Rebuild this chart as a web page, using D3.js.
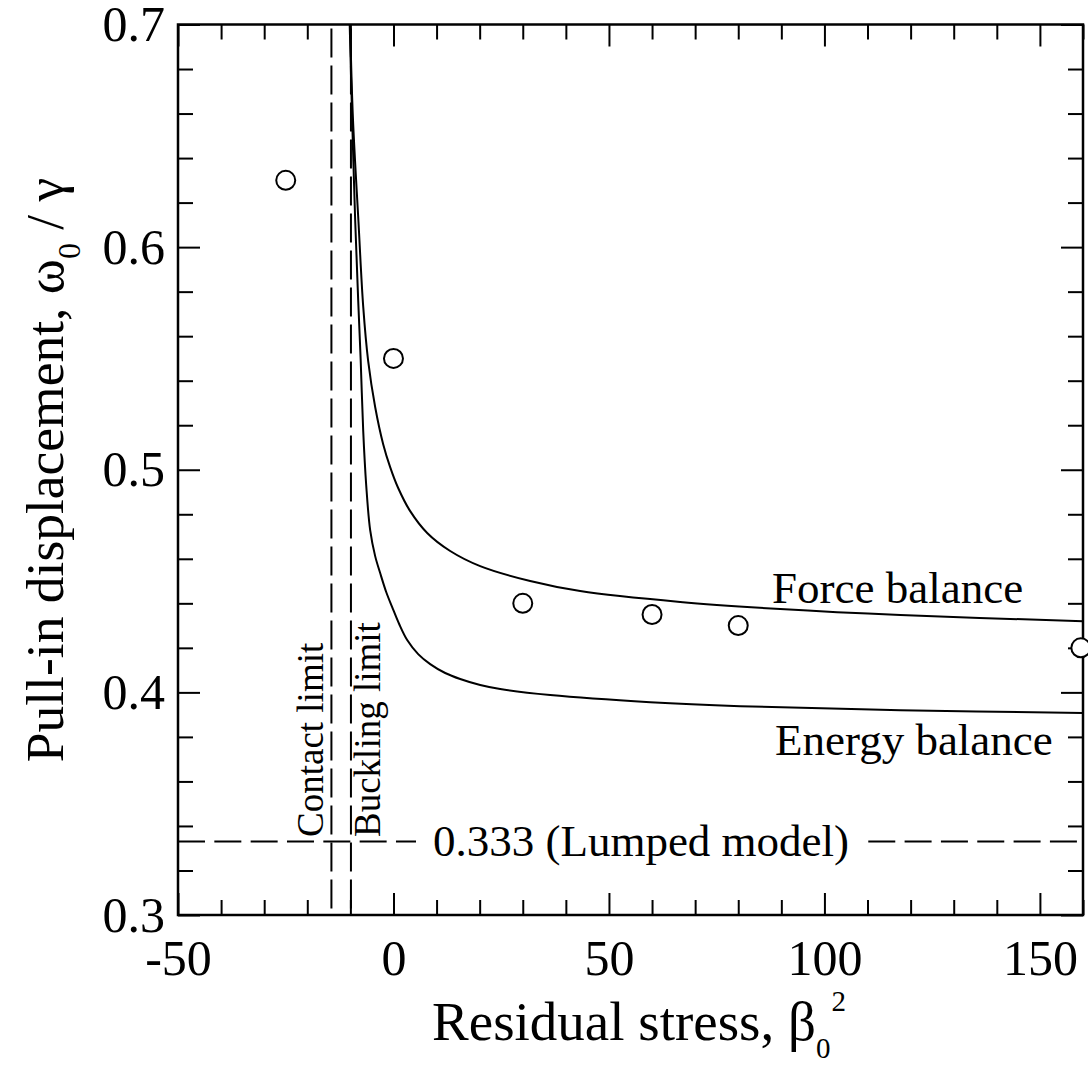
<!DOCTYPE html>
<html>
<head>
<meta charset="utf-8">
<script src="https://cdn.jsdelivr.net/npm/d3@7"></script>
<style>
  html, body { margin: 0; padding: 0; background: #fff; }
  svg { display: block; }
  text { font-family: "Liberation Serif", "Times New Roman", serif; fill: #000; }
</style>
</head>
<body>
<svg id="chart" width="1088" height="1066"></svg>
<script>
// Pull-in displacement vs residual stress: force balance and energy balance models
const forceBeta = [-10.05, -9.42, -8.12, -7.03, -5.87, -4.25, -2.39, -0.77, 1.09, 3.88, 7.82, 13.16, 20.12, 31.72, 43.32, 66.53, 89.73, 117.6, 160];
const forceVal  = [0.700, 0.6584, 0.6113, 0.5735, 0.5488, 0.5282, 0.5115, 0.5012, 0.4918, 0.4814, 0.4716, 0.4635, 0.4567, 0.4500, 0.4455, 0.4406, 0.4374, 0.4347, 0.4320];

const energyBeta = [-10.16, -9.58, -8.89, -8.19, -7.61, -7.03, -6.33, -5.41, -4.25, -3.09, -1.69, -0.30, 1.32, 3.18, 5.73, 8.52, 12.0, 15.48, 20.12, 24.76, 36.36, 59.57, 80.45, 117.6, 160];
const energyVal  = [0.700, 0.6571, 0.6122, 0.5762, 0.5493, 0.5178, 0.4931, 0.4729, 0.4612, 0.4536, 0.4451, 0.4383, 0.4307, 0.4235, 0.4172, 0.4127, 0.4087, 0.4060, 0.4033, 0.4015, 0.3988, 0.3956, 0.3938, 0.3920, 0.3907];

// Measured points
const measBeta = [-25, 0, 30, 60, 80, 159.5];
const measVal  = [0.63, 0.55, 0.44, 0.435, 0.43, 0.42];

// Reference limits
const contactLimit = -14.4;
const bucklingLimit = -Math.PI * Math.PI;
const lumpedValue = 0.333;

// Axis ticks
const xMajor = [-50, 0, 50, 100, 150];
const xMinor = d3.range(-40, 161, 10).filter(v => v % 50 !== 0);
const yMajor = [0.3, 0.4, 0.5, 0.6, 0.7];
const yMinor = d3.range(0.32, 0.70, 0.02).filter(v => Math.abs(v * 10 - Math.round(v * 10)) > 1e-6);

const svg = d3.select("#chart");
const L = 178, R = 1083, T = 24.5, B = 915;

const x = d3.scaleLinear().domain([-50, 160]).range([L, R]);
const y = d3.scaleLinear().domain([0.3, 0.7]).range([B, T]);

svg.append("defs").append("clipPath").attr("id", "plotclip")
  .append("rect").attr("x", L).attr("y", T).attr("width", R - L).attr("height", B - T);

const plot = svg.append("g").attr("clip-path", "url(#plotclip)");

// Vertical limits
[contactLimit, bucklingLimit].forEach(v => {
  plot.append("line")
    .attr("x1", x(v)).attr("x2", x(v)).attr("y1", T + 4).attr("y2", B)
    .attr("stroke", "#000").attr("stroke-width", 2)
    .attr("stroke-dasharray", "29,8");
});

// Lumped model line
plot.append("line")
  .attr("x1", x(-50)).attr("x2", x(160)).attr("y1", y(lumpedValue)).attr("y2", y(lumpedValue))
  .attr("stroke", "#000").attr("stroke-width", 2)
  .attr("stroke-dasharray", "27,9.33");

// Label over the lumped line
plot.append("rect")
  .attr("x", 416).attr("y", y(lumpedValue) - 22).attr("width", 450).attr("height", 44)
  .attr("fill", "#fff");
svg.append("text")
  .attr("x", 641).attr("y", y(lumpedValue) + 14)
  .attr("text-anchor", "middle").attr("font-size", 45)
  .text("0.333 (Lumped model)");

// Model curves
const line = d3.line().x(d => x(d[0])).y(d => y(d[1])).curve(d3.curveCatmullRom.alpha(0.5));
const forceData = forceBeta.map((b, i) => [b, forceVal[i]]);
const energyData = energyBeta.map((b, i) => [b, energyVal[i]]);

plot.append("path").datum(forceData).attr("d", line)
  .attr("fill", "none").attr("stroke", "#000").attr("stroke-width", 2);
plot.append("path").datum(energyData).attr("d", line)
  .attr("fill", "none").attr("stroke", "#000").attr("stroke-width", 2);

// Axes: ticks inward on all four sides
function styleAxis(g) {
  g.select(".domain").remove();
  g.selectAll("line").attr("stroke", "#000").attr("stroke-width", 2);
  g.selectAll("text").attr("font-family", "Liberation Serif").attr("font-size", 50).attr("fill", "#000");
}

svg.append("g").attr("transform", `translate(0,${B})`)
  .call(d3.axisBottom(x).tickValues(xMajor).tickSize(-22).tickPadding(24).tickFormat(d => String(d)))
  .call(styleAxis);
svg.append("g").attr("transform", `translate(0,${B})`)
  .call(d3.axisBottom(x).tickValues(xMinor).tickSize(-15).tickFormat(""))
  .call(styleAxis);
svg.append("g").attr("transform", `translate(0,${T})`)
  .call(d3.axisTop(x).tickValues(xMajor).tickSize(-22).tickFormat(""))
  .call(styleAxis);
svg.append("g").attr("transform", `translate(0,${T})`)
  .call(d3.axisTop(x).tickValues(xMinor).tickSize(-15).tickFormat(""))
  .call(styleAxis);

svg.append("g").attr("transform", `translate(${L},0)`)
  .call(d3.axisLeft(y).tickValues(yMajor).tickSize(-22).tickPadding(13).tickFormat(d3.format(".1f")))
  .call(styleAxis);
svg.append("g").attr("transform", `translate(${L},0)`)
  .call(d3.axisLeft(y).tickValues(yMinor).tickSize(-15).tickFormat(""))
  .call(styleAxis);
svg.append("g").attr("transform", `translate(${R},0)`)
  .call(d3.axisRight(y).tickValues(yMajor).tickSize(-22).tickFormat(""))
  .call(styleAxis);
svg.append("g").attr("transform", `translate(${R},0)`)
  .call(d3.axisRight(y).tickValues(yMinor).tickSize(-15).tickFormat(""))
  .call(styleAxis);

// Frame
svg.append("rect")
  .attr("x", L).attr("y", T).attr("width", R - L).attr("height", B - T)
  .attr("fill", "none").attr("stroke", "#000").attr("stroke-width", 2.5);

// Measured points
svg.selectAll("circle.meas").data(measBeta.map((b, i) => [b, measVal[i]]))
  .join("circle").attr("class", "meas")
  .attr("cx", d => x(d[0])).attr("cy", d => y(d[1])).attr("r", 9.5)
  .attr("fill", "#fff").attr("stroke", "#000").attr("stroke-width", 2);

// Curve labels
svg.append("text").attr("x", 772).attr("y", 603).attr("font-size", 45).text("Force balance");
svg.append("text").attr("x", 775).attr("y", 755).attr("font-size", 45).text("Energy balance");

// Limit labels (vertical)
svg.append("text").attr("transform", "translate(323,837) rotate(-90)")
  .attr("font-size", 37).text("Contact limit");
svg.append("text").attr("transform", "translate(380,837) rotate(-90)")
  .attr("font-size", 37).text("Buckling limit");

// Axis titles
const xt = svg.append("text").attr("x", 639).attr("y", 1040)
  .attr("text-anchor", "middle").attr("font-size", 55);
xt.append("tspan").text("Residual stress, β");
xt.append("tspan").attr("font-size", 29).attr("dy", 18).text("0");
xt.append("tspan").attr("font-size", 29).attr("dy", -47).attr("dx", 1).text("2");

const yt = svg.append("text").attr("transform", "translate(63,470) rotate(-90)")
  .attr("text-anchor", "middle").attr("font-size", 53.5);
yt.append("tspan").text("Pull-in displacement, ω");
yt.append("tspan").attr("font-size", 32).attr("dy", 17).text("0");
yt.append("tspan").attr("dy", -17).text(" / γ");
</script>
</body>
</html>
